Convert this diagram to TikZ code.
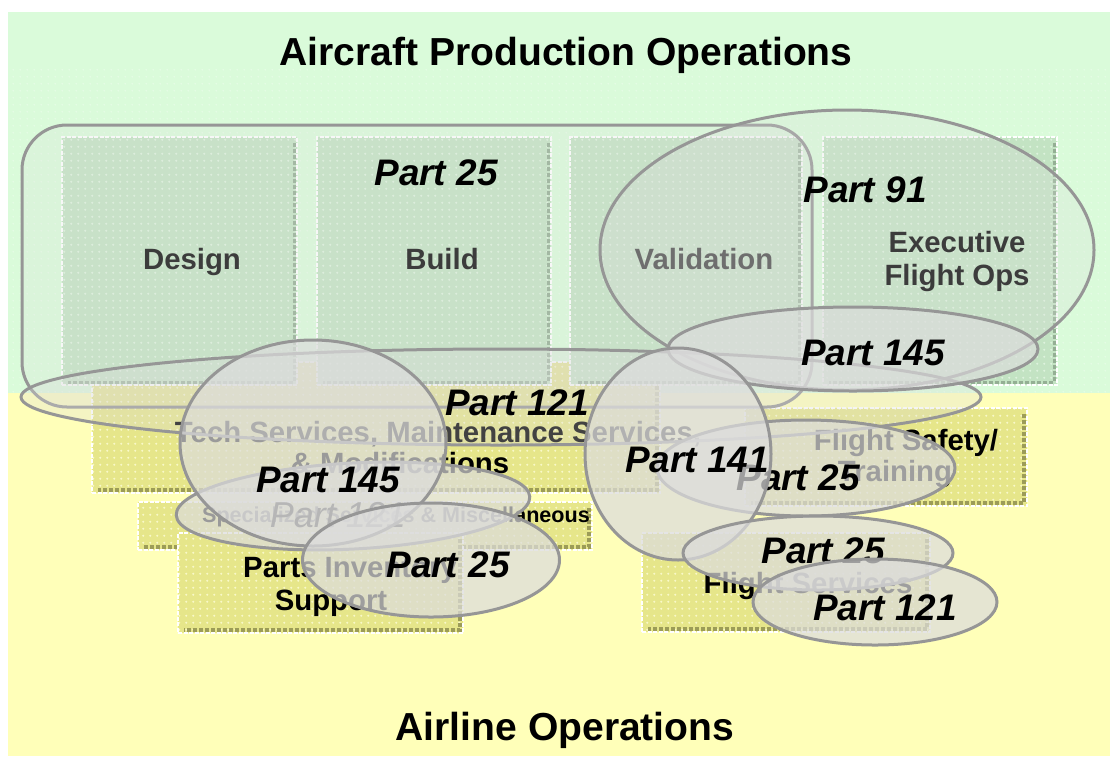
\documentclass[tikz,border=0pt]{standalone}
\usepackage{fontspec}
\setmainfont{Liberation Sans}
\usetikzlibrary{shapes.geometric,patterns.meta}

% one unit of the drawing grid
\newdimen\px
\px=0.75pt

\definecolor{bggreen}{HTML}{DAFBDA}
\definecolor{bggreendot}{HTML}{E6FDE6}
\definecolor{bgyellow}{HTML}{FFFFB9}
\definecolor{gfill}{HTML}{C3E3C3}
\definecolor{gdot}{HTML}{DDF3DD}
\definecolor{gshade}{HTML}{94AF94}
\definecolor{yfill}{HTML}{E6E68A}
\definecolor{ydot}{HTML}{F8F8C8}
\definecolor{yshade}{HTML}{9C9C58}
\definecolor{ringline}{HTML}{969696}
\definecolor{ringfill}{HTML}{DCDCDC}
\definecolor{softtext}{HTML}{3C3C3C}
\definecolor{fadedtext}{HTML}{5E5E5E}

\tikzset{
  size/.style 2 args={minimum width=#1\px, minimum height=#2\px},
  baselabel/.style={inner sep=0pt, outer sep=0pt, anchor=base},
  headline/.style={baselabel, font=\fontsize{29.3}{34}\selectfont\bfseries},
  boxtext/.style={baselabel, font=\fontsize{22}{26}\selectfont\bfseries},
  smalltext/.style={baselabel, font=\fontsize{16.2}{19}\selectfont\bfseries},
  partlabel/.style={baselabel, font=\fontsize{27.7}{30}\selectfont\bfseries\itshape},
  faintlabel/.style={baselabel, font=\fontsize{27}{30}\selectfont\itshape, text=fadedtext},
  tile/.style={rectangle, inner sep=0pt, outer sep=0pt, draw=white,
    line width=2.5\px, dash pattern=on 4\px off 1.5\px},
  gtile/.style={tile, preaction={fill=gfill},
    pattern={Dots[distance=5.4pt, radius=1pt]}, pattern color=gdot},
  ytile/.style={tile, preaction={fill=yfill},
    pattern={Dots[distance=5.4pt, radius=1pt]}, pattern color=ydot},
  gshadow/.style={draw=gshade, line width=3\px, dash pattern=on 4\px off 2\px},
  yshadow/.style={draw=yshade, line width=4\px, dash pattern=on 4\px off 2\px},
  ring/.style={ellipse, draw=ringline, line width=3\px, fill=ringfill,
    inner sep=0pt, outer sep=0pt},
  frame/.style={rectangle, rounded corners=45\px, draw=ringline, line width=3\px,
    fill=ringfill, inner sep=0pt, outer sep=0pt},
}

% #1 g/y, #2 name, #3 #4 centre, #5 #6 width and height
\newcommand\tilebox[6]{%
  \node[#1tile, size={#5}{#6}] (#2) at (#3,#4) {};
  \draw[#1shadow] ([xshift=-3\px,yshift=-6\px]#2.north east)
    -- ([xshift=-3\px,yshift=3\px]#2.south east)
    -- ([xshift=6\px,yshift=3\px]#2.south west);
}

\begin{document}
\begin{tikzpicture}[x=0.75pt, y=-0.75pt]
\useasboundingbox (0,0) rectangle (1113,758);

% two operation areas
\fill[bggreen] (8,12) rectangle (1110,393);
\fill[pattern={Dots[distance=5.4pt, radius=0.8pt]}, pattern color=bggreendot] (8,68) rectangle (1110,393);
\fill[bgyellow] (8,393) rectangle (1110,756);
\node[headline] (toptitle) at (566,65) {Aircraft Production Operations};
\node[headline] (bottomtitle) at (565,740) {Airline Operations};

% airline activities
\tilebox{y}{tech}{376}{427.5}{568}{131}
\tilebox{y}{safety}{886}{457}{282}{98}
\tilebox{y}{special}{365}{526}{454}{48}
\tilebox{y}{parts}{320.5}{583}{285}{100}
\tilebox{y}{fserv}{786}{582.5}{288}{99}

% production activities
\tilebox{g}{design}{179.5}{261}{235}{248}
\tilebox{g}{build}{434}{261}{234}{248}
\tilebox{g}{valid}{686}{261}{232}{248}
\tilebox{g}{exec}{940}{261}{234}{248}

\node[boxtext] (techA) at (438,442) {Tech Services, Maintenance Services,};
\node[boxtext] (techB) at (400,473) {\& Modifications};
\node[boxtext] (safetyA) at (906,450) {Flight Safety/};
\node[boxtext] (safetyB) at (895,481) {Training};
\node[smalltext] (specialA) at (396,522) {Specialized Services \& Miscellaneous};
\node[boxtext] (partsA) at (350,577) {Parts Inventory};
\node[boxtext] (partsB) at (331,610) {Support};
\node[boxtext] (fservA) at (808,593) {Flight Services};

% regulation scopes
\node[frame, fill opacity=0.22, size={790}{282}] (p25rect) at (417,266) {};
\node[ring, fill opacity=0.25, size={494}{280}] (p91) at (847,250) {};

\node[boxtext, text=softtext] (designA) at (192,269) {Design};
\node[boxtext, text=softtext] (buildA) at (442,269) {Build};
\node[boxtext, text=fadedtext!90] (validA) at (704,269) {Validation};
\node[boxtext, text=softtext] (execA) at (957,252) {Executive};
\node[boxtext, text=softtext] (execB) at (957,285) {Flight Ops};
\node[partlabel] (l25rect) at (436,185) {Part 25};
\node[partlabel] (l91) at (865,202) {Part 91};

\node[ring, fill opacity=0.3, size={960}{96}] (p121big) at (501,397) {};
\node[partlabel] (l121big) at (517,415) {Part 121};

\node[ring, fill opacity=0.65, size={370}{84}] (p145top) at (853,349) {};
\node[partlabel] (l145top) at (873,365) {Part 145};

\node[ring, fill opacity=0.7, size={354}{86}, rotate=3] (p121s) at (353,506) {};
\node[faintlabel] (l121s) at (338,527) {Part 121};

\node[ring, fill opacity=0.7, size={266}{206}] (c145) at (313,443) {};
\node[partlabel] (l145) at (328,492) {Part 145};

\node[ring, fill opacity=0.72, size={257}{114}] (p25ll) at (431,560) {};
\node[partlabel] (l25ll) at (448,577) {Part 25};

\node[ring, fill opacity=0.72, size={298}{96}] (p25fs) at (806,468) {};
\node[partlabel] (l25fs) at (798,490) {Part 25};

\node[ring, fill opacity=0.72, size={186}{212}] (c141) at (678,454) {};
\node[partlabel] (l141) at (697,472) {Part 141};

\node[ring, fill opacity=0.72, size={270}{74}] (p25fv) at (818,553) {};
\node[partlabel] (l25fv) at (823,563) {Part 25};

\node[ring, fill opacity=0.72, size={244}{86}] (p121lr) at (875,602) {};
\node[partlabel] (l121lr) at (885,620) {Part 121};
\end{tikzpicture}
\end{document}
